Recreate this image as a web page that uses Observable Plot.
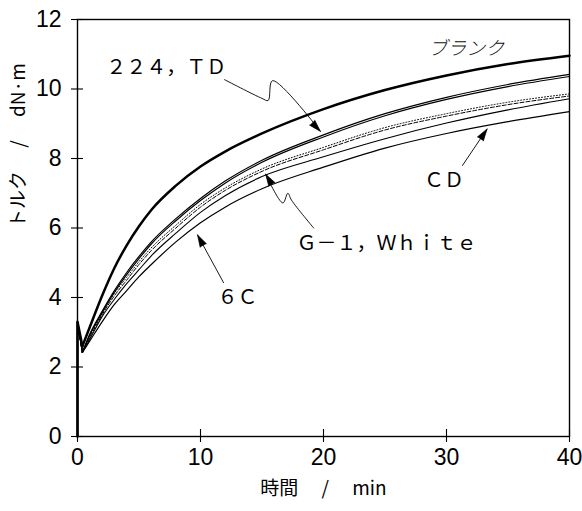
<!DOCTYPE html>
<html>
<head>
<meta charset="utf-8">
<script src="https://cdn.jsdelivr.net/npm/d3@7"></script>
<script src="https://cdn.jsdelivr.net/npm/@observablehq/plot@0.6"></script>
<style>
  html, body { margin: 0; padding: 0; background: #fff; }
  #chart svg { display: block; }
</style>
</head>
<body>
<div id="chart"></div>
<script>
// time (min)
const time = [0, 0, 0.4, 1, 2, 3, 4, 5, 6, 8, 10, 12, 15, 20, 25, 30, 35, 40];
// torque (dN·m)
const blank = [0, 3.3, 2.6, 3.15, 4.05, 4.85, 5.5, 6.05, 6.52, 7.22, 7.77, 8.2, 8.72, 9.42, 9.97, 10.39, 10.72, 10.96];
const s224  = [0, 3.3, 2.42, 2.95, 3.6, 4.2, 4.72, 5.18, 5.6, 6.27, 6.85, 7.35, 7.95, 8.68, 9.29, 9.76, 10.13, 10.42];
const sTD   = [0, 3.3, 2.42, 2.92, 3.56, 4.15, 4.66, 5.12, 5.54, 6.21, 6.79, 7.29, 7.89, 8.62, 9.23, 9.7, 10.07, 10.36];
const sWhite= [0, 3.3, 2.42, 2.88, 3.55, 4.12, 4.58, 5.03, 5.43, 6.08, 6.68, 7.15, 7.7, 8.32, 8.89, 9.29, 9.62, 9.86];
const sG1   = [0, 3.3, 2.42, 2.85, 3.5, 4.05, 4.5, 4.95, 5.35, 6.0, 6.6, 7.08, 7.63, 8.25, 8.82, 9.22, 9.55, 9.8];
const s6C   = [0, 3.3, 2.42, 2.8, 3.45, 3.95, 4.4, 4.8, 5.2, 5.85, 6.45, 6.93, 7.48, 8.05, 8.57, 9.02, 9.4, 9.72];
const sCD   = [0, 3.3, 2.42, 2.75, 3.3, 3.8, 4.2, 4.6, 4.95, 5.6, 6.15, 6.6, 7.13, 7.75, 8.3, 8.72, 9.06, 9.35];

const xTicks = [0, 10, 20, 30, 40];
const yTicks = [0, 2, 4, 6, 8, 10, 12];

// annotation texts and anchors (data units)
const labelTexts = ["ブランク", "２２４，ＴＤ", "ＣＤ", "Ｇ－１，Ｗｈｉｔｅ", "６Ｃ"];
const labelT = [31.6, 12.1, 29.8, 17.8, 13.0];
const labelV = [11.15, 10.62, 7.37, 5.55, 4.0];
const labelAnchor = ["middle", "end", "middle", "start", "middle"];

// leader lines (data units)
const leaderTD = {t: [11.95, 15.0, 15.5, 15.85, 19.75], v: [10.27, 9.73, 9.67, 10.24, 8.78]};
const leaderG1 = {t: [19.2, 17.4, 17.1, 16.7, 15.3], v: [6.0, 6.8, 7.0, 6.72, 7.55]};
const leader6C = {t: [11.87, 9.76], v: [4.43, 5.8]};
const leaderCD = {t: [31.3, 33.3], v: [7.8, 8.85]};

const seriesDefs = [
  {name: "ブランク", v: blank, w: 2.5, dash: null},
  {name: "224", v: s224, w: 1.2, dash: null},
  {name: "TD", v: sTD, w: 1.2, dash: null},
  {name: "White", v: sWhite, w: 1.0, dash: "1,2"},
  {name: "G-1", v: sG1, w: 1.0, dash: "4,2"},
  {name: "6C", v: s6C, w: 1.1, dash: null},
  {name: "CD", v: sCD, w: 1.2, dash: null}
];

const W = 582, H = 511;
const mL = 77, mR = 13, mT = 19, mB = 75;
const fw = W - mL - mR, fh = H - mT - mB;
const pxT = fw / 40, pxV = fh / 12;

const numFont = "'Liberation Sans Narrow', 'Liberation Sans', Arial, sans-serif";
const jpFont = "'Noto Sans CJK JP', sans-serif";

const lineMarks = seriesDefs.flatMap(s => {
  const rows = time.map((t, i) => ({t, v: s.v[i]}));
  return [
    Plot.line(rows.slice(0, 3), {x: "t", y: "v", stroke: "#000", strokeWidth: s.w, strokeDasharray: s.dash}),
    Plot.line(rows.slice(2), {x: "t", y: "v", stroke: "#000", strokeWidth: s.w,
      strokeDasharray: s.dash, curve: "monotone-x"})
  ];
});

function leader(L) {
  const pts = L.t.map((t, i) => ({t, v: L.v[i]}));
  const a = pts[pts.length - 2], b = pts[pts.length - 1];
  const dx = (b.t - a.t) * pxT, dy = -(b.v - a.v) * pxV;
  const ang = Math.atan2(dx, -dy) * 180 / Math.PI;
  return [
    Plot.line(pts, {x: "t", y: "v", stroke: "#000", strokeWidth: 0.9, curve: "catmull-rom"}),
    Plot.vector([b], {x: "t", y: "v", rotate: ang, length: 12, r: 3.6, shape: "spike",
      anchor: "end", fill: "#000", fillOpacity: 1, stroke: "#000", strokeWidth: 0.6})
  ];
}

const labels = labelTexts.map((s, i) => ({s, t: labelT[i], v: labelV[i], a: labelAnchor[i]}));
const textOpts = {x: "t", y: "v", text: "s", fontSize: 20, fontFamily: jpFont, fill: "#000"};

const plot = Plot.plot({
  width: W, height: H,
  marginLeft: mL, marginRight: mR, marginTop: mT, marginBottom: mB,
  x: {domain: [0, 40]},
  y: {domain: [0, 12]},
  style: {background: "#fff", color: "#000"},
  marks: [
    Plot.frame({stroke: "#000", strokeWidth: 1.4}),
    Plot.axisX({ticks: xTicks, tickSize: 0, tickPadding: 12, label: null,
      fontSize: 23, fontFamily: numFont}),
    Plot.axisY({ticks: yTicks, tickSize: 0, tickPadding: 16, label: null,
      fontSize: 23, fontFamily: numFont}),
    Plot.tickX(xTicks, {x: d => d, stroke: "#000", strokeWidth: 1.1, insetTop: fh - 7, insetBottom: -6}),
    Plot.tickY(yTicks, {y: d => d, stroke: "#000", strokeWidth: 1.1, insetRight: fw - 6, insetLeft: -6}),
    ...lineMarks,
    ...leader(leaderTD),
    ...leader(leaderG1),
    ...leader(leader6C),
    ...leader(leaderCD),
    Plot.text(labels.filter(d => d.a === "middle" && d.s !== "ブランク"), {...textOpts, textAnchor: "middle"}),
    Plot.text(labels.filter(d => d.a === "end"), {...textOpts, textAnchor: "end"}),
    Plot.text(labels.filter(d => d.a === "start"), {...textOpts, textAnchor: "start"}),
    Plot.text(labels.filter(d => d.s === "ブランク"), {
      x: "t", y: "v", text: "s", fontSize: 19, fontFamily: jpFont,
      fontStyle: "italic", fontWeight: 300, fill: "#111"
    }),
    Plot.text(["トルク　 /　 dN·m"], {
      frameAnchor: "left", dx: -59, rotate: -90, text: d => d,
      fontSize: 19, fontFamily: jpFont, fill: "#000"
    }),
    Plot.text(["時間　 /　 min"], {
      frameAnchor: "bottom", dy: 58, text: d => d,
      fontSize: 19, fontFamily: jpFont, fill: "#000"
    })
  ]
});

document.getElementById("chart").appendChild(plot);
</script>
</body>
</html>
